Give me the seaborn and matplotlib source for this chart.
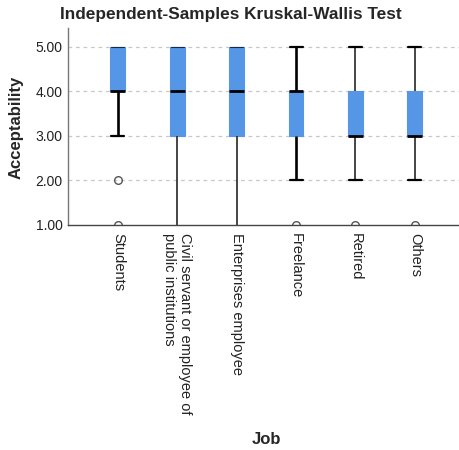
import numpy as np
import pandas as pd
import seaborn as sns
import matplotlib.pyplot as plt

# Acceptability ratings (1-5) by job group
jobs = [
    "Students",
    "Civil servant or employee of\npublic institutions",
    "Enterprises employee",
    "Freelance",
    "Retired",
    "Others",
]
students = [1, 2, 3, 4, 4, 4, 4, 4, 4, 5, 5, 5, 5, 5, 5, 5]
civil_servant = [1, 2, 3, 3, 3, 4, 4, 4, 5, 5, 5, 5]
enterprises = [1, 2, 3, 3, 3, 4, 4, 4, 5, 5, 5, 5]
freelance = [1, 2, 3, 3, 4, 4, 4, 4, 4, 5]
retired = [1, 2, 3, 3, 3, 3, 4, 4, 4, 5]
others = [1, 2, 3, 3, 3, 3, 4, 4, 4, 5]
y_ticks = [1, 2, 3, 4, 5]

groups = [students, civil_servant, enterprises, freelance, retired, others]
df = pd.DataFrame({
    "Job": [j for j, g in zip(jobs, groups) for _ in g],
    "Acceptability": [v for g in groups for v in g],
})

sns.set_theme(style="white")
plt.rcParams["font.family"] = ["Liberation Sans", "DejaVu Sans"]

blue = "#5596E6"
fig = plt.figure(figsize=(4.6, 4.5), dpi=100)
ax = fig.add_axes([68 / 460, 0.5, 1 - 68 / 460, 0.438])

sns.boxplot(
    data=df, x="Job", y="Acceptability", order=jobs, ax=ax,
    width=0.25, color=blue, saturation=1, whis=1.5,
    capwidths=0.22,
    boxprops=dict(facecolor=blue, edgecolor=blue, linewidth=0.8),
    medianprops=dict(color="black", linewidth=2.0),
    whiskerprops=dict(color="#262626", linewidth=1.2),
    capprops=dict(color="black", linewidth=1.6),
    flierprops=dict(marker="o", markerfacecolor="none",
                    markeredgecolor="#555555", markersize=5.5,
                    markeredgewidth=1.0),
)

y_min = y_ticks[0]

# Whiskers of zero length only leave a hairline cap on the box edge;
# caps lying on the bottom axis are left out
box = ax.containers[0]
for i, (wh, cap) in enumerate(zip(box.whiskers, box.caps)):
    yd = wh.get_ydata()
    if abs(yd[0] - yd[1]) < 1e-9:
        cap.set_linewidth(0.8)
        cap.set_color("#1a2a40")
    if abs(cap.get_ydata()[0] - y_min) < 1e-9:
        cap.set_visible(False)
    if i // 2 in (0, 3):
        wh.set_linewidth(1.9)
        wh.set_color("black")

ax.set_xlim(-0.84, 5.76)
ax.set_ylim(y_min, 5.42)
ax.set_yticks(y_ticks)
ax.set_yticklabels([f"{v:.2f}" for v in y_ticks])
for v in y_ticks[1:]:
    ax.axhline(v, color="#c8c8c8", linestyle=(0, (3, 3)), linewidth=0.9, zorder=0)

ax.tick_params(axis="both", length=0, labelsize=10, colors="#222222")
ax.tick_params(axis="y", pad=4)
ax.tick_params(axis="x", pad=6, labelsize=10.5)
for lbl in ax.get_xticklabels():
    lbl.set_rotation(-90)
    lbl.set_ha("center")
    lbl.set_va("top")
    lbl.set_multialignment("left")

for side in ["top", "right"]:
    ax.spines[side].set_visible(False)
ax.spines["left"].set_color("#777777")
ax.spines["left"].set_linewidth(1.0)
ax.spines["bottom"].set_color("#444444")
ax.spines["bottom"].set_linewidth(1.0)

ax.set_xlabel("")
ax.set_ylabel("")
fig.text(16 / 460, 1 - 127 / 450, "Acceptability", rotation=90,
         ha="center", va="center", fontsize=12, fontweight="bold")
fig.text(266 / 460, 1 - 439 / 450, "Job", ha="center", va="center",
         fontsize=12, fontweight="bold")
fig.text(231 / 460, 1 - 14 / 450, "Independent-Samples Kruskal-Wallis Test",
         ha="center", va="center", fontsize=12.4, fontweight="bold")

fig.savefig("out.png", dpi=100)
